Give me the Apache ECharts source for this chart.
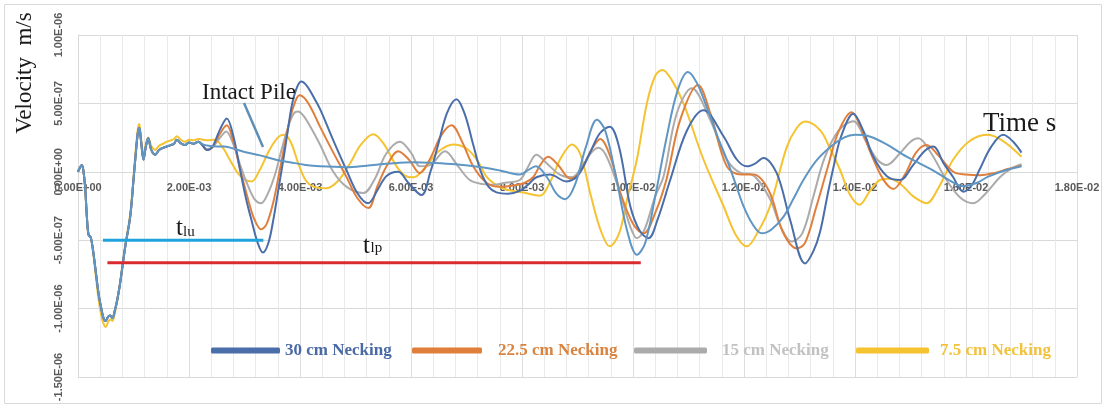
<!DOCTYPE html>
<html>
<head>
<meta charset="utf-8">
<script src="https://cdn.jsdelivr.net/npm/echarts@6/dist/echarts.min.js"></script>
<style>
  html, body { margin: 0; padding: 0; background: #fff; }
  #chart { width: 1108px; height: 408px; }
</style>
</head>
<body>
<div id="chart"></div>
<script>
// Time in ms, velocity in units of 1e-7 m/s. Axis labels convert back to seconds and m/s.
const seriesNames = ['30 cm Necking', '22.5 cm Necking', '15 cm Necking', '7.5 cm Necking', 'Intact Pile'];

// Shared impulse response (hammer blow) before the traces split apart
const onsetShared = [
  [0, 0], [0.04, 0.35], [0.07, 0.5], [0.1, 0.0], [0.13, -1.2], [0.16, -3.3], [0.19, -4.6],
  [0.23, -4.8], [0.27, -5.7], [0.32, -7.3], [0.37, -8.9], [0.42, -10.0], [0.46, -10.7],
  [0.5, -10.9], [0.54, -10.6], [0.58, -10.5], [0.62, -10.7], [0.66, -10.2], [0.71, -9.3],
  [0.76, -8.1], [0.85, -5.5], [0.94, -3.3], [1.0, -0.6], [1.04, 1.3], [1.08, 2.9],
  [1.105, 3.2], [1.14, 2.1], [1.18, 0.9], [1.22, 1.8], [1.265, 2.45], [1.32, 1.6],
  [1.39, 1.25], [1.46, 1.6], [1.53, 1.75], [1.6, 1.85], [1.67, 1.95], [1.73, 2.05],
  [1.78, 2.35], [1.85, 2.1], [1.93, 1.95], [2.0, 2.15], [2.08, 2.05], [2.17, 2.2]
];

const tail30 = [
  [2.25, 1.9], [2.32, 1.6], [2.38, 1.65], [2.44, 1.95], [2.56, 3.1], [2.68, 3.9], [2.8, 2.6],
  [2.92, 0.15], [3.03, -2.0], [3.13, -3.6], [3.23, -5.1], [3.33, -5.9], [3.43, -5.2],
  [3.52, -3.5], [3.61, -1.3], [3.7, 0.9], [3.78, 3.0], [3.85, 4.8], [3.93, 6.0], [4.02, 6.6],
  [4.12, 6.3], [4.24, 5.5], [4.36, 4.6], [4.6, 2.3], [4.84, 0.1], [5.04, -1.6], [5.23, -2.3],
  [5.4, -1.3], [5.56, -0.3], [5.77, 0.0], [5.95, -0.8], [6.19, -1.7], [6.35, 0.0], [6.49, 2.0],
  [6.65, 4.3], [6.82, 5.3], [6.97, 4.2], [7.12, 2.0], [7.26, 0.0], [7.4, -1.1], [7.54, -1.5],
  [7.75, -1.6], [7.96, -1.4], [8.12, -0.9], [8.26, -0.4], [8.5, -0.2], [8.8, -0.7], [9.0, -0.3],
  [9.22, 1.35], [9.4, 2.8], [9.58, 3.3], [9.75, 1.8], [9.95, -2.5], [10.12, -4.3], [10.28, -4.85],
  [10.45, -3.4], [10.67, -0.6], [10.97, 3.0], [11.27, 4.5], [11.63, 2.6], [11.87, 0.9],
  [12.05, 0.4], [12.2, 0.6], [12.35, 1.0], [12.59, -0.1], [12.83, -3.5], [13.1, -6.7],
  [13.25, -5.8], [13.37, -4.4], [13.5, -1.8], [13.61, 0.3], [13.75, 2.6], [13.97, 4.25],
  [14.15, 3.0], [14.33, 1.1], [14.57, -0.3], [14.81, -0.6], [15.05, 0.5], [15.25, 1.5],
  [15.41, 1.85], [15.6, 0.6], [15.77, -0.4], [15.95, -1.45], [16.1, -1.0], [16.25, 0.2],
  [16.45, 1.8], [16.67, 2.7], [16.85, 2.2], [17.0, 1.4]
];

const tail225 = [
  [2.25, 1.9], [2.32, 1.6], [2.38, 1.65], [2.44, 1.9], [2.56, 2.8], [2.68, 3.4], [2.8, 2.2],
  [2.92, 0.2], [3.05, -1.8], [3.17, -3.4], [3.3, -4.2], [3.4, -3.8], [3.52, -2.2], [3.62, -0.2],
  [3.72, 1.9], [3.82, 3.9], [3.92, 5.2], [3.99, 5.6], [4.1, 5.3], [4.22, 4.5], [4.36, 3.3],
  [4.6, 1.4], [4.84, -0.4], [5.03, -1.9], [5.23, -2.65], [5.4, -1.0], [5.56, 0.4], [5.77, 1.5],
  [5.96, 0.9], [6.16, -0.1], [6.35, 1.0], [6.55, 2.7], [6.73, 3.4], [6.92, 2.2], [7.12, 0.4],
  [7.36, -0.8], [7.6, -1.1], [7.85, -1.0], [8.05, -0.8], [8.2, -0.4], [8.33, 0.5], [8.47, 1.1],
  [8.65, 0.5], [8.87, -0.5], [9.05, 0.0], [9.25, 1.6], [9.41, 2.4], [9.6, 1.0], [9.77, -1.5],
  [10.0, -3.8], [10.19, -4.5], [10.4, -3.0], [10.6, -0.6], [10.85, 3.8], [11.17, 6.35],
  [11.4, 4.2], [11.69, 0.4], [11.95, -0.2], [12.17, -0.2], [12.45, -1.4], [12.7, -4.4],
  [12.95, -5.6], [13.1, -5.2], [13.3, -2.6], [13.5, 0.2], [13.7, 2.9], [13.94, 4.35],
  [14.1, 3.3], [14.27, 1.5], [14.5, -0.5], [14.69, -1.25], [14.9, -0.2], [15.1, 1.4],
  [15.29, 1.95], [15.5, 1.2], [15.77, 0.0], [16.0, -0.2], [16.25, -0.25], [16.5, -0.1],
  [16.75, 0.2], [17.0, 0.45]
];

const tail15 = [
  [2.25, 1.9], [2.32, 1.65], [2.38, 1.7], [2.44, 1.85], [2.56, 2.5], [2.67, 2.95], [2.8, 2.0],
  [2.93, 0.4], [3.06, -1.0], [3.18, -2.0], [3.3, -2.3], [3.42, -1.6], [3.55, -0.2], [3.66, 1.5],
  [3.78, 3.2], [3.88, 4.2], [3.96, 4.4], [4.06, 4.1], [4.2, 3.2], [4.36, 2.0], [4.6, 0.0],
  [4.84, -1.1], [5.14, -1.55], [5.35, -0.5], [5.55, 1.3], [5.8, 2.2], [6.0, 1.4], [6.16, 0.4],
  [6.35, 0.5], [6.61, 1.5], [6.85, 0.4], [7.06, -0.6], [7.3, -0.9], [7.48, -0.95], [7.7, -0.8],
  [7.96, -0.6], [8.1, 0.3], [8.26, 1.25], [8.45, 0.6], [8.68, -0.2], [8.9, -0.4], [9.1, 0.5],
  [9.25, 1.4], [9.38, 1.75], [9.55, 0.9], [9.8, -2.0], [9.95, -4.0], [10.07, -4.85],
  [10.2, -4.3], [10.4, -1.8], [10.55, -0.35], [10.79, 4.3], [11.06, 6.1], [11.39, 3.8],
  [11.69, 0.9], [11.95, -0.1], [12.14, -0.2], [12.47, -2.0], [12.65, -3.9], [12.86, -5.1],
  [13.05, -4.5], [13.25, -1.8], [13.45, 1.0], [13.7, 3.0], [13.97, 3.7], [14.2, 2.2],
  [14.4, 0.9], [14.57, 0.5], [14.8, 1.3], [15.0, 2.2], [15.14, 2.45], [15.35, 1.5],
  [15.65, -0.6], [15.9, -1.9], [16.13, -2.3], [16.35, -1.6], [16.61, -0.4], [16.8, 0.2],
  [17.0, 0.55]
];

// 7.5 cm trace, whole record
const trace75 = [
  [0, 0], [0.04, 0.35], [0.07, 0.5], [0.1, 0.0], [0.13, -1.2], [0.16, -3.3], [0.19, -4.6],
  [0.23, -4.8], [0.27, -5.8], [0.32, -7.6], [0.37, -9.3], [0.42, -10.5], [0.46, -11.1],
  [0.5, -11.35], [0.54, -11.0], [0.58, -10.8], [0.62, -10.9], [0.66, -10.4], [0.71, -9.4],
  [0.76, -8.1], [0.85, -5.4], [0.94, -3.1], [1.0, -0.4], [1.04, 1.6], [1.08, 3.2], [1.105, 3.5],
  [1.14, 2.3], [1.18, 1.2], [1.22, 2.0], [1.265, 2.5], [1.32, 1.9], [1.39, 1.6], [1.46, 1.9],
  [1.53, 2.05], [1.6, 2.2], [1.67, 2.3], [1.73, 2.4], [1.78, 2.6], [1.85, 2.35], [1.93, 2.2],
  [2.0, 2.35], [2.08, 2.3], [2.17, 2.4], [2.25, 2.35], [2.35, 2.3], [2.44, 2.35], [2.5, 2.3],
  [2.62, 1.7], [2.74, 0.85], [2.88, -0.1], [3.0, -0.55], [3.13, -0.7], [3.27, 0.1], [3.45, 1.6],
  [3.6, 2.5], [3.71, 2.7], [3.83, 2.2], [3.97, 0.6], [4.1, -0.6], [4.25, -1.1], [4.48, -1.2],
  [4.7, -0.6], [4.9, 0.6], [5.1, 2.0], [5.32, 2.75], [5.5, 2.1], [5.74, 0.4], [5.9, -0.3],
  [6.05, -0.4], [6.25, 0.3], [6.5, 1.5], [6.76, 2.0], [7.0, 1.7], [7.2, 0.8], [7.36, -0.35],
  [7.55, -1.0], [7.72, -1.3], [8.0, -1.5], [8.32, -1.75], [8.5, -0.8], [8.7, 1.0], [8.9, 2.0],
  [9.05, 1.3], [9.25, -1.9], [9.42, -4.3], [9.58, -5.45], [9.75, -4.5], [9.9, -1.9],
  [10.07, 0.9], [10.25, 5.0], [10.4, 7.0], [10.53, 7.45], [10.7, 6.7], [10.91, 5.0],
  [11.27, 0.9], [11.63, -2.5], [11.85, -4.6], [12.05, -5.45], [12.25, -4.4], [12.47, -2.5],
  [12.77, 1.8], [12.95, 3.2], [13.1, 3.67], [13.37, 3.05], [13.55, 1.7], [13.73, 0.15],
  [13.9, -1.6], [14.08, -2.4], [14.27, -1.4], [14.45, -0.6], [14.63, -0.5], [14.85, -1.0],
  [15.05, -1.8], [15.29, -2.3], [15.5, -1.2], [15.77, 0.9], [16.05, 2.2], [16.37, 2.7],
  [16.65, 2.3], [17.0, 1.1]
];

const tailIntact = [
  [2.25, 2.0], [2.35, 1.9], [2.5, 1.85], [2.62, 1.85], [2.8, 1.7], [3.0, 1.45], [3.28, 1.2],
  [3.55, 0.9], [3.82, 0.7], [4.1, 0.5], [4.36, 0.4], [4.84, 0.34], [5.2, 0.45], [5.6, 0.6],
  [6.04, 0.7], [6.4, 0.65], [6.8, 0.55], [7.24, 0.35], [7.6, 0.1], [7.96, -0.2], [8.1, 0.1],
  [8.25, 0.4], [8.45, -0.4], [8.62, -1.6], [8.78, -2.0], [8.95, -1.0], [9.15, 1.8], [9.35, 3.8],
  [9.5, 3.0], [9.7, -0.5], [9.9, -4.4], [10.07, -6.06], [10.22, -5.2], [10.4, -1.8],
  [10.6, 2.4], [10.8, 5.9], [10.99, 7.3], [11.15, 6.5], [11.35, 4.5], [11.55, 2.3],
  [11.69, 0.9], [11.85, -0.9], [11.99, -2.5], [12.15, -3.8], [12.32, -4.5], [12.5, -4.2],
  [12.71, -3.3], [12.9, -1.9], [13.07, -0.6], [13.3, 0.8], [13.55, 1.8], [13.8, 2.5],
  [14.0, 2.7], [14.25, 2.6], [14.57, 2.0], [14.85, 1.3], [15.17, 0.6], [15.45, 0.0],
  [15.65, -0.5], [15.95, -1.05], [16.2, -0.8], [16.4, -0.35], [16.7, 0.1], [17.0, 0.4]
];

// Travel-time markers: t_lu (to the necking) and t_lp (to the pile toe)
const spanLu = [[0.45, -5.0], [3.34, -5.0]];
const spanLp = [[0.53, -6.65], [10.14, -6.65]];

const lineColors = ['#4A6EAA', '#E07F3C', '#ABABAB', '#F5C230', '#5F96C3'];
const legendText = ['#4A6AA5', '#D9833F', '#C2C2C2', '#F2C23A'];

function sci(x) {
  if (Math.abs(x) < 1e-20) return '0.00E+00';
  const parts = x.toExponential(2).split('e');
  const n = parseInt(parts[1], 10);
  return parts[0] + 'E' + (n < 0 ? '-' : '+') + String(Math.abs(n)).padStart(2, '0');
}

const serifFont = '"Liberation Serif", "Times New Roman", serif';
const tickFont = { fontFamily: '"Liberation Sans", Arial, sans-serif', fontWeight: 'bold', fontSize: 11, color: '#5A5A5A' };

const chart = echarts.init(document.getElementById('chart'), null, { renderer: 'canvas' });

const traces = [
  onsetShared.concat(tail30),
  onsetShared.concat(tail225),
  onsetShared.concat(tail15),
  trace75,
  onsetShared.concat(tailIntact)
];

const drawOrder = [3, 2, 1, 0, 4];
const lineSeries = drawOrder.map(i => ({
  name: seriesNames[i],
  type: 'line',
  data: traces[i],
  smooth: 0.35,
  symbol: 'none',
  silent: true,
  lineStyle: { color: lineColors[i], width: 2 },
  itemStyle: { color: lineColors[i] },
  z: 3
}));

const spanSeries = [
  { data: spanLu, color: '#1FA3DF' },
  { data: spanLp, color: '#D92B2E' }
].map(s => ({
  type: 'line', data: s.data, symbol: 'none', silent: true,
  lineStyle: { color: s.color, width: 3 }, z: 4
}));

const legendLeft = [211, 412, 634, 856];
const legendPad = [0, 11, 10, 6];
const legendIconW = [69, 70, 73, 73];
const legends = legendLeft.map((left, i) => ({
  data: [seriesNames[i]],
  left: left,
  top: 342,
  padding: 0,
  icon: 'roundRect',
  itemWidth: legendIconW[i],
  itemHeight: 6,
  selectedMode: false,
  textStyle: {
    fontFamily: serifFont, fontWeight: 'bold', fontSize: 17,
    color: legendText[i], padding: [0, 0, 0, legendPad[i]]
  }
}));

chart.setOption({
  animation: false,
  backgroundColor: '#ffffff',
  grid: { left: 78, right: 31, top: 35, bottom: 31, containLabel: false },
  xAxis: {
    type: 'value', min: 0, max: 18, interval: 2,
    position: 'bottom',
    // axis runs along the zero-velocity line (grid bottom sits at -1.5e-6)
    offset: -205,
    axisLine: { show: true, onZero: false, lineStyle: { color: '#D9D9D9', width: 1 } },
    axisTick: { show: false },
    axisLabel: Object.assign({ margin: 10, formatter: v => sci(v * 1e-3) }, tickFont),
    splitLine: { show: true, lineStyle: { color: '#DDDDDD', width: 1 } },
    minorTick: { show: false, splitNumber: 5 },
    minorSplitLine: { show: true, lineStyle: { color: '#E9E9E9', width: 1 } }
  },
  yAxis: {
    type: 'value', min: -15, max: 10, interval: 5,
    axisLine: { show: true, onZero: false, lineStyle: { color: '#D9D9D9' } },
    axisTick: { show: false },
    axisLabel: Object.assign({ rotate: 90, margin: 14, formatter: v => sci(v * 1e-7) }, tickFont),
    splitLine: { show: true, lineStyle: { color: '#D9D9D9', width: 1 } }
  },
  legend: legends,
  series: lineSeries.concat(spanSeries),
  graphic: [
    { type: 'rect', shape: { x: 4.5, y: 4.5, width: 1097, height: 399 }, style: { fill: 'none', stroke: '#D9D9D9', lineWidth: 1 }, silent: true, z: 0 },
    { type: 'text', x: 25, y: 73, rotation: Math.PI / 2,
      style: { text: 'Velocity  m/s', font: '23px ' + serifFont, fill: '#1A1A1A', align: 'center', verticalAlign: 'middle' } },
    { type: 'text', x: 202, y: 92.5,
      style: { text: 'Intact Pile', font: '23px ' + serifFont, fill: '#1A1A1A', align: 'left', verticalAlign: 'middle' }, z: 10 },
    { type: 'line', shape: { x1: 244, y1: 103, x2: 263, y2: 147 }, style: { stroke: '#5F8FB6', lineWidth: 2.5 }, z: 10 },
    { type: 'text', x: 176, y: 228.5,
      style: { text: 't', font: '25px ' + serifFont, fill: '#1A1A1A', align: 'left', verticalAlign: 'middle' }, z: 10 },
    { type: 'text', x: 183, y: 232,
      style: { text: 'lu', font: '15px ' + serifFont, fill: '#1A1A1A', align: 'left', verticalAlign: 'middle' }, z: 10 },
    { type: 'text', x: 363, y: 246.5,
      style: { text: 't', font: '25px ' + serifFont, fill: '#1A1A1A', align: 'left', verticalAlign: 'middle' }, z: 10 },
    { type: 'text', x: 370.5, y: 248,
      style: { text: 'lp', font: '15px ' + serifFont, fill: '#1A1A1A', align: 'left', verticalAlign: 'middle' }, z: 10 },
    { type: 'text', x: 983, y: 124,
      style: { text: 'Time s', font: '27px ' + serifFont, fill: '#1A1A1A', align: 'left', verticalAlign: 'middle' }, z: 10 }
  ]
});
</script>
</body>
</html>
